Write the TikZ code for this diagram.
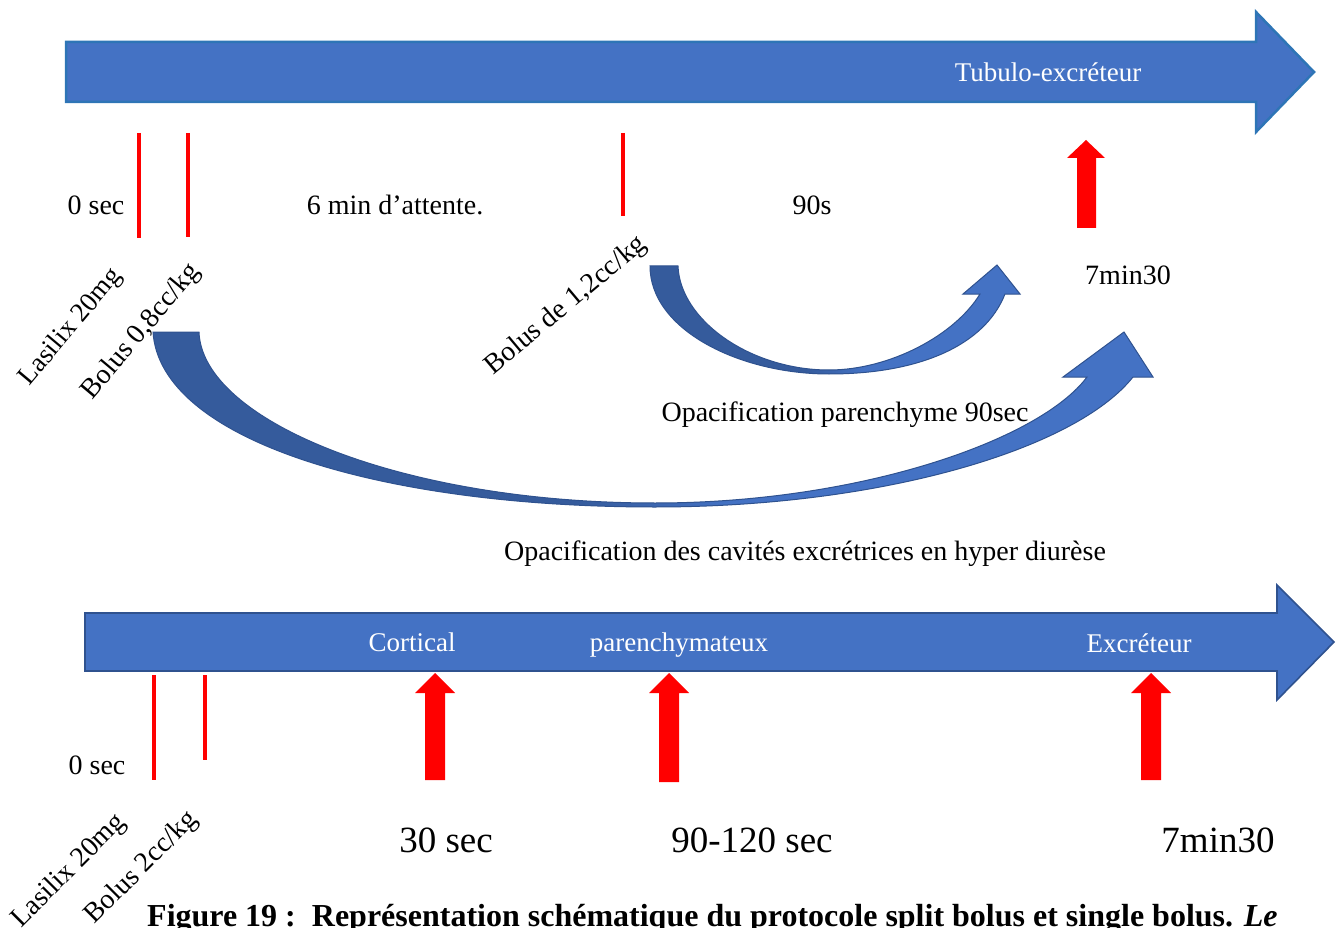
\documentclass[tikz,border=0pt]{standalone}
\usepackage{fontspec}
\setmainfont{Liberation Serif}
\definecolor{ofblue}{HTML}{4472C4}
\definecolor{ofedge}{HTML}{2E75B6}
\definecolor{ofdark}{HTML}{2F528F}
\definecolor{cvdark}{HTML}{355B9C}
\definecolor{redmark}{HTML}{FF0000}
\pgfdeclarehorizontalshading{curvsh}{100bp}{color(0bp)=(cvdark); color(46bp)=(cvdark); color(54bp)=(ofblue); color(100bp)=(ofblue)}
\begin{document}
\begin{tikzpicture}[x=1pt,y=-1pt,
  lbl/.style={font=\fontsize{28}{32}\selectfont, inner sep=0pt},
  wlbl/.style={font=\fontsize{27}{31}\selectfont, inner sep=0pt, text=white},
  biglbl/.style={font=\fontsize{37}{42}\selectfont, inner sep=0pt},
  redline/.style={draw=redmark, line width=3.5pt},
  redarrow/.style={fill=redmark},
  bandarrow/.style={shading=curvsh, draw=ofdark, line width=1pt},
  toparrow/.style={fill=ofblue, draw=ofedge, line width=2.5pt, line join=miter},
  botarrow/.style={fill=ofblue, draw=ofdark, line width=1.6pt, line join=miter}]
\useasboundingbox (0,0) rectangle (1339,928);

% top timeline arrow
\path[toparrow] (66,42) -- (1256,42) -- (1256,12) -- (1314,72) -- (1256,132) -- (1256,102) -- (66,102) -- cycle;
\node[wlbl] (tubulo) at (1048,72) {Tubulo-excréteur};

% top red markers
\draw[redline] (139,133) -- (139,238);
\draw[redline] (188,133) -- (188,237);
\draw[redline] (623,133) -- (623,216);
\path[redarrow] (1086,140) -- (1105,158) -- (1096,158) -- (1096,228) -- (1077,228) -- (1077,158) -- (1067,158) -- cycle;

% top texts
\node[lbl] (t0) at (96,205) {0 sec};
\node[lbl] (t6) at (395,205) {6 min d’attente.};
\node[lbl] (t90) at (812,205) {90s};
\node[lbl] (t7) at (1128,275) {7min30};
\node[lbl, rotate=50, font=\fontsize{27}{31}\selectfont] (lasA) at (71,327) {Lasilix 20mg};
\node[lbl, rotate=50] (bolA) at (141,332) {Bolus 0,8cc/kg};
\node[lbl, rotate=40] (bolB) at (566,306) {Bolus de 1,2cc/kg};

% small curved arrow
\path[bandarrow] (650,266) .. controls (650,330) and (740,374) .. (829,374)
  .. controls (920,374) and (985,345) .. (1005,294)
  -- (1020,294) -- (997,265) -- (963,294) -- (980,294)
  .. controls (955,335) and (890,370) .. (829,370)
  .. controls (750,370) and (680,320) .. (678,266) -- cycle;

% large curved arrow
\path[bandarrow] (153,332) .. controls (160,440) and (380,507) .. (655,507)
  .. controls (880,507) and (1075,450) .. (1133,377)
  -- (1153,377) -- (1124,332) -- (1063,377) -- (1087,377)
  .. controls (1040,440) and (860,503) .. (655,503)
  .. controls (400,503) and (202,420) .. (199,332) -- cycle;

\node[lbl] (opa1) at (845,415) {Opacification parenchyme 90sec};
\node[lbl] (opa2) at (805,554) {Opacification des cavités excrétrices en hyper diurèse};

% bottom timeline arrow
\path[botarrow] (85,613) -- (1277,613) -- (1277,585) -- (1334,642) -- (1277,700) -- (1277,671) -- (85,671) -- cycle;
\node[wlbl] (cort) at (412,642) {Cortical};
\node[wlbl] (paren) at (679,645) {parenchymateux};
\node[wlbl] (excr) at (1139,643) {Excréteur};

% bottom red markers
\draw[redline] (154,675) -- (154,780);
\draw[redline] (205,675) -- (205,760);
\path[redarrow] (435,673) -- (455,693) -- (445,693) -- (445,780) -- (425,780) -- (425,693) -- (415,693) -- cycle;
\path[redarrow] (669,673) -- (689,693) -- (679,693) -- (679,782) -- (659,782) -- (659,693) -- (649,693) -- cycle;
\path[redarrow] (1151,673) -- (1171,693) -- (1161,693) -- (1161,780) -- (1141,780) -- (1141,693) -- (1131,693) -- cycle;

\node[lbl] (b0) at (97,765) {0 sec};
\node[biglbl] (b30) at (446,840) {30 sec};
\node[biglbl] (b90) at (752,840) {90-120 sec};
\node[biglbl] (b7) at (1218,840) {7min30};
\node[lbl, rotate=45] (lasB) at (69,871) {Lasilix 20mg};
\node[lbl, rotate=45] (bolC) at (142,868) {Bolus 2cc/kg};

% caption (cut by the page edge)
\node[font=\bfseries\fontsize{32}{36}\selectfont, inner sep=0pt, anchor=base west] (cap) at (147,926)
  {Figure 19 :\ \ Représentation schématique du protocole split bolus et single bolus. \textit{Le}};
\end{tikzpicture}
\end{document}
